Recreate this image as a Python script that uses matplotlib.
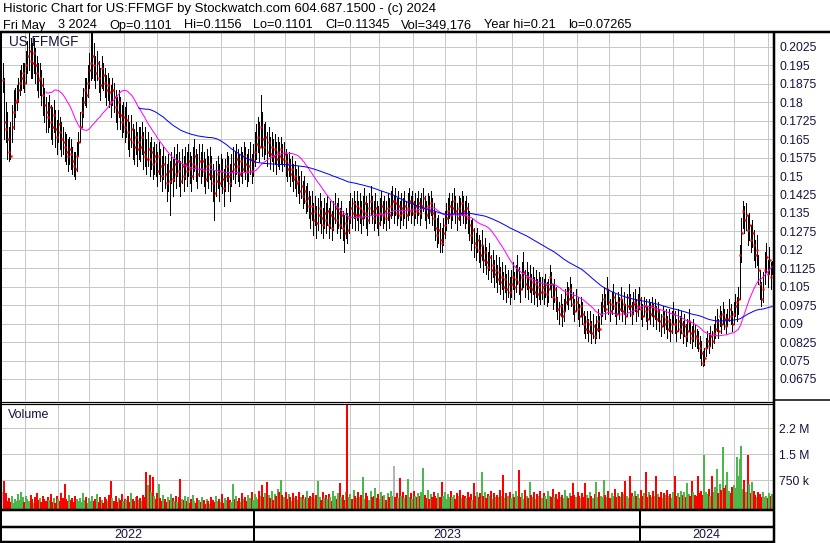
import numpy as np
import pandas as pd
import matplotlib
matplotlib.use("Agg")
import matplotlib.pyplot as plt

plt.rcParams['font.family'] = ['Liberation Sans', 'DejaVu Sans']

TITLE1 = "Historic Chart for US:FFMGF by Stockwatch.com 604.687.1500 - (c) 2024"
TITLE2_FIELDS = ["Fri May", "3 2024", "Op=0.1101", "Hi=0.1156", "Lo=0.1101",
                 "Cl=0.11345", "Vol=349,176", "Year hi=0.21", "lo=0.07265"]
TICKER = "US:FFMGF"
END_DATE = "2024-05-03"
HOLIDAYS = ["2022-05-30", "2022-06-20", "2022-07-04", "2022-09-05", "2022-11-24",
            "2022-12-26", "2023-01-02", "2023-01-16", "2023-02-20", "2023-04-07",
            "2023-05-29", "2023-06-19", "2023-07-04", "2023-09-04", "2023-11-23",
            "2023-12-25", "2024-01-01", "2024-01-15", "2024-02-19", "2024-03-29"]

PRICE_TICKS = [0.0675, 0.075, 0.0825, 0.09, 0.0975, 0.105, 0.1125, 0.12, 0.1275,
               0.135, 0.1425, 0.15, 0.1575, 0.165, 0.1725, 0.18, 0.1875, 0.195, 0.2025]
VOLUME_TICKS = [750000, 1500000, 2250000]
VOLUME_TICK_LABELS = ["750 k", "1.5 M", "2.2 M"]
MA_SHORT = 29
MA_LONG = 89

# prices in units of 0.0001
HIGH_E4 = [
    1960, 1900, 1800, 1760, 1700, 1720, 1790, 1850, 1860,
    1870, 1900, 1930, 1950, 1960, 1960, 2010, 2050, 2080, 2060,
    2040, 2060, 2020, 1990, 1960, 1960, 1930, 1900, 1860, 1820,
    1800, 1830, 1790, 1780, 1810, 1770, 1730, 1770, 1740, 1720,
    1700, 1680, 1670, 1650, 1660, 1650, 1620, 1600, 1600, 1640,
    1680, 1760, 1820, 1860, 1900, 1900, 1950, 2000, 2080, 2100,
    2040, 1990, 2010, 1970, 1940, 1990, 1960, 1940, 1910, 1920,
    1900, 1870, 1900, 1880, 1850, 1820, 1850, 1820, 1790, 1800,
    1780, 1800, 1750, 1720, 1750, 1710, 1690, 1720, 1680, 1700,
    1700, 1720, 1680, 1700, 1650, 1680, 1640, 1660, 1620, 1640,
    1630, 1600, 1640, 1610, 1580, 1620, 1580, 1550, 1590, 1560,
    1600, 1570, 1620, 1590, 1630, 1600, 1560, 1610, 1580, 1620,
    1600, 1630, 1600, 1580, 1620, 1650, 1610, 1590, 1630, 1600,
    1630, 1600, 1570, 1610, 1580, 1620, 1580, 1550, 1520, 1560,
    1580, 1550, 1590, 1570, 1530, 1570, 1600, 1580, 1550, 1590,
    1620, 1600, 1630, 1610, 1590, 1620, 1600, 1640, 1620, 1590,
    1610, 1640, 1590, 1630, 1680, 1710, 1740, 1720, 1830, 1760,
    1710, 1720, 1680, 1700, 1660, 1680, 1650, 1670, 1640, 1660,
    1640, 1660, 1630, 1640, 1610, 1590, 1600, 1570, 1580, 1550,
    1560, 1530, 1540, 1500, 1520, 1480, 1500, 1460, 1470, 1440,
    1420, 1440, 1390, 1420, 1380, 1410, 1430, 1400, 1370, 1410,
    1390, 1420, 1370, 1400, 1360, 1400, 1430, 1390, 1410, 1370,
    1400, 1360, 1340, 1370, 1350, 1400, 1430, 1410, 1440, 1400,
    1440, 1400, 1430, 1400, 1420, 1450, 1420, 1390, 1430, 1460,
    1420, 1400, 1430, 1400, 1380, 1410, 1440, 1400, 1420, 1400,
    1430, 1410, 1440, 1460, 1420, 1450, 1410, 1440, 1400, 1430,
    1410, 1440, 1400, 1430, 1450, 1420, 1440, 1400, 1430, 1410,
    1440, 1410, 1430, 1450, 1420, 1400, 1430, 1420, 1440, 1410,
    1390, 1360, 1330, 1340, 1310, 1290, 1330, 1360, 1390, 1410,
    1430, 1400, 1430, 1450, 1420, 1390, 1420, 1410, 1440, 1420,
    1400, 1420, 1390, 1360, 1320, 1330, 1290, 1270, 1290, 1260,
    1240, 1280, 1220, 1250, 1210, 1190, 1230, 1180, 1200, 1160,
    1180, 1140, 1170, 1130, 1150, 1110, 1140, 1100, 1120, 1090,
    1120, 1150, 1110, 1140, 1180, 1130, 1100, 1150, 1190, 1120,
    1150, 1110, 1140, 1100, 1130, 1090, 1120, 1080, 1110, 1090,
    1090, 1080, 1100, 1070, 1080, 1140, 1110, 1060, 1080, 1050,
    1010, 990, 1020, 980, 1000, 1040, 1070, 1050, 1090, 1060,
    1030, 1000, 1040, 1010, 980, 1010, 990, 950, 930, 950,
    920, 950, 910, 940, 900, 930, 960, 930, 990, 1020,
    1050, 1020, 1090, 1040, 1000, 1030, 1060, 1020, 990, 1030,
    1010, 1050, 1000, 1030, 980, 1020, 1060, 1020, 990, 1030,
    1040, 1000, 1020, 1050, 1010, 980, 1010, 1000, 970, 1000,
    990, 1010, 980, 1000, 970, 990, 960, 940, 970, 950,
    960, 930, 960, 920, 950, 990, 950, 920, 960, 930,
    950, 910, 940, 900, 920, 960, 910, 890, 920, 900,
    880, 870, 850, 830, 790, 800, 840, 870, 860, 890,
    870, 900, 930, 960, 920, 970, 950, 990, 960, 940,
    960, 1000, 980, 950, 990, 1020, 1010, 1050, 1220, 1330,
    1400, 1380, 1390, 1340, 1350, 1300, 1320, 1280, 1240, 1260,
    1180, 1120, 1070, 1110, 1190, 1230, 1160, 1210, 1150, 1156,
]
LOW_E4 = [
    1840, 1650, 1640, 1570, 1560, 1570, 1640, 1690, 1740,
    1770, 1800, 1830, 1850, 1860, 1840, 1880, 1920, 1930, 1900,
    1900, 1920, 1880, 1850, 1820, 1830, 1790, 1750, 1720, 1680,
    1680, 1700, 1650, 1630, 1680, 1620, 1590, 1640, 1610, 1580,
    1590, 1560, 1550, 1520, 1550, 1530, 1510, 1500, 1490, 1520,
    1580, 1640, 1700, 1740, 1790, 1780, 1820, 1860, 1890, 1900,
    1890, 1860, 1890, 1840, 1810, 1860, 1850, 1820, 1790, 1810,
    1780, 1740, 1790, 1760, 1720, 1690, 1740, 1690, 1660, 1680,
    1640, 1660, 1610, 1580, 1620, 1570, 1550, 1590, 1540, 1570,
    1560, 1590, 1530, 1540, 1510, 1540, 1500, 1530, 1490, 1510,
    1500, 1460, 1510, 1480, 1440, 1490, 1450, 1400, 1440, 1340,
    1470, 1420, 1480, 1450, 1500, 1460, 1420, 1470, 1440, 1490,
    1460, 1500, 1470, 1440, 1490, 1520, 1480, 1450, 1500, 1470,
    1500, 1460, 1430, 1480, 1450, 1490, 1440, 1400, 1320, 1420,
    1450, 1400, 1460, 1430, 1380, 1440, 1480, 1440, 1400, 1460,
    1490, 1470, 1510, 1480, 1460, 1500, 1470, 1520, 1490, 1460,
    1480, 1510, 1470, 1500, 1540, 1570, 1600, 1560, 1620, 1580,
    1570, 1590, 1540, 1580, 1530, 1560, 1520, 1550, 1510, 1540,
    1530, 1550, 1520, 1540, 1500, 1480, 1500, 1460, 1480, 1440,
    1450, 1420, 1430, 1390, 1410, 1370, 1390, 1350, 1360, 1330,
    1290, 1320, 1260, 1300, 1250, 1280, 1310, 1270, 1250, 1290,
    1270, 1300, 1250, 1290, 1240, 1280, 1310, 1270, 1290, 1250,
    1290, 1240, 1190, 1250, 1230, 1270, 1310, 1290, 1330, 1280,
    1320, 1280, 1310, 1270, 1300, 1330, 1290, 1260, 1310, 1340,
    1310, 1280, 1310, 1290, 1260, 1300, 1320, 1290, 1310, 1280,
    1320, 1290, 1330, 1340, 1310, 1340, 1300, 1330, 1290, 1320,
    1300, 1330, 1290, 1320, 1340, 1310, 1340, 1300, 1330, 1310,
    1340, 1300, 1330, 1360, 1320, 1290, 1330, 1310, 1340, 1300,
    1280, 1240, 1210, 1230, 1190, 1190, 1220, 1250, 1280, 1310,
    1330, 1290, 1320, 1350, 1310, 1280, 1320, 1300, 1340, 1310,
    1290, 1310, 1270, 1240, 1200, 1230, 1170, 1160, 1190, 1150,
    1130, 1160, 1110, 1140, 1100, 1080, 1120, 1070, 1090, 1050,
    1070, 1030, 1060, 1020, 1040, 1000, 1030, 990, 1010, 980,
    1010, 1040, 1000, 1030, 1060, 1020, 990, 1040, 1050, 1010,
    1040, 1000, 1030, 990, 1020, 980, 1010, 970, 1000, 980,
    1000, 980, 1010, 970, 990, 1040, 1010, 960, 990, 950,
    920, 900, 930, 890, 910, 950, 980, 960, 1000, 970,
    940, 910, 950, 920, 890, 930, 900, 860, 840, 860,
    830, 860, 820, 840, 820, 840, 870, 840, 900, 930,
    950, 920, 980, 940, 910, 940, 960, 930, 900, 940,
    920, 950, 910, 940, 900, 930, 960, 930, 900, 940,
    950, 910, 930, 960, 920, 890, 930, 910, 880, 920,
    900, 930, 890, 920, 880, 910, 870, 850, 890, 860,
    880, 840, 870, 830, 860, 900, 860, 830, 870, 840,
    860, 820, 850, 810, 830, 870, 820, 800, 830, 810,
    800, 790, 760, 730, 727, 730, 770, 800, 780, 810,
    800, 820, 840, 870, 840, 890, 860, 900, 880, 860,
    890, 910, 900, 870, 900, 930, 910, 940, 1000, 1150,
    1290, 1270, 1280, 1220, 1240, 1190, 1210, 1160, 1130, 1140,
    1060, 1000, 970, 990, 1060, 1110, 1050, 1100, 1040, 1101,
]
CLOSE_E4 = [
    1890, 1720, 1690, 1650, 1600, 1580, 1700, 1760, 1800,
    1810, 1850, 1880, 1900, 1920, 1880, 1950, 1990, 2010, 1970,
    1960, 2000, 1950, 1920, 1890, 1900, 1870, 1830, 1790, 1760,
    1740, 1780, 1720, 1700, 1750, 1690, 1660, 1710, 1680, 1650,
    1640, 1620, 1600, 1580, 1610, 1590, 1560, 1540, 1530, 1580,
    1640, 1700, 1760, 1800, 1850, 1830, 1880, 1930, 1960, 1990,
    1950, 1920, 1960, 1900, 1870, 1940, 1910, 1880, 1850, 1870,
    1840, 1800, 1850, 1820, 1780, 1760, 1800, 1750, 1720, 1740,
    1700, 1730, 1680, 1650, 1690, 1640, 1620, 1660, 1610, 1640,
    1620, 1660, 1600, 1580, 1570, 1610, 1570, 1600, 1550, 1580,
    1560, 1520, 1580, 1540, 1500, 1550, 1510, 1470, 1520, 1480,
    1530, 1490, 1550, 1510, 1560, 1520, 1480, 1540, 1500, 1550,
    1520, 1560, 1530, 1500, 1550, 1580, 1540, 1510, 1560, 1530,
    1560, 1520, 1490, 1540, 1510, 1550, 1500, 1470, 1430, 1480,
    1510, 1470, 1520, 1490, 1450, 1500, 1540, 1500, 1470, 1520,
    1550, 1530, 1570, 1540, 1510, 1560, 1530, 1580, 1550, 1520,
    1540, 1570, 1520, 1560, 1600, 1630, 1660, 1620, 1700, 1650,
    1620, 1660, 1600, 1640, 1590, 1620, 1580, 1610, 1570, 1600,
    1580, 1610, 1570, 1590, 1560, 1530, 1550, 1510, 1530, 1490,
    1500, 1470, 1480, 1440, 1460, 1420, 1440, 1400, 1410, 1380,
    1350, 1380, 1320, 1360, 1310, 1340, 1370, 1330, 1300, 1350,
    1320, 1360, 1300, 1340, 1290, 1330, 1370, 1320, 1350, 1300,
    1340, 1290, 1270, 1310, 1280, 1330, 1370, 1350, 1390, 1340,
    1380, 1340, 1370, 1330, 1360, 1390, 1350, 1320, 1370, 1400,
    1360, 1330, 1370, 1340, 1310, 1350, 1380, 1340, 1360, 1330,
    1370, 1340, 1380, 1400, 1400, 1390, 1350, 1380, 1340, 1370,
    1350, 1380, 1340, 1370, 1400, 1360, 1390, 1350, 1380, 1360,
    1390, 1350, 1380, 1410, 1370, 1340, 1380, 1360, 1390, 1350,
    1330, 1290, 1260, 1280, 1240, 1230, 1270, 1300, 1330, 1360,
    1380, 1340, 1370, 1400, 1360, 1330, 1370, 1350, 1390, 1360,
    1340, 1370, 1330, 1300, 1260, 1280, 1230, 1210, 1240, 1200,
    1180, 1220, 1160, 1190, 1150, 1130, 1170, 1120, 1140, 1100,
    1120, 1080, 1110, 1070, 1090, 1050, 1080, 1040, 1060, 1030,
    1060, 1090, 1050, 1080, 1120, 1070, 1040, 1090, 1110, 1060,
    1090, 1050, 1080, 1040, 1070, 1030, 1060, 1020, 1050, 1030,
    1050, 1030, 1060, 1020, 1040, 1090, 1060, 1010, 1040, 1000,
    960, 940, 970, 930, 950, 990, 1020, 1000, 1040, 1010,
    980, 950, 990, 960, 930, 970, 940, 900, 880, 910,
    870, 900, 860, 890, 850, 880, 910, 880, 940, 970,
    1000, 960, 1040, 990, 950, 980, 1010, 970, 940, 990,
    960, 1000, 950, 980, 930, 970, 1010, 970, 940, 980,
    990, 950, 970, 1000, 960, 930, 970, 950, 920, 960,
    940, 970, 930, 960, 920, 950, 910, 890, 930, 900,
    920, 880, 910, 870, 900, 940, 900, 870, 910, 880,
    900, 860, 890, 850, 870, 910, 860, 840, 870, 850,
    840, 820, 800, 780, 740, 760, 800, 830, 810, 850,
    830, 860, 880, 910, 870, 930, 900, 940, 920, 890,
    920, 960, 930, 900, 940, 970, 990, 1000, 1180, 1270,
    1360, 1320, 1340, 1280, 1300, 1240, 1270, 1220, 1180, 1200,
    1120, 1060, 1000, 1040, 1120, 1170, 1100, 1160, 1090, 1134.5,
]
# volume in thousands of shares
VOLUME_K = [
    420, 730, 380, 150, 250, 120, 300, 90, 200, 160,
    350, 180, 420, 260, 110, 300, 200, 140, 330, 220,
    90, 260, 380, 170, 240, 130, 310, 200, 150, 280,
    180, 360, 120, 240, 90, 300, 220, 160, 390, 250,
    650, 210, 140, 330, 180, 250, 110, 290, 200, 150,
    240, 120, 370, 190, 280, 100, 230, 160, 310, 140,
    200, 350, 130, 260, 180, 90, 280, 220, 150, 330,
    730, 240, 160, 300, 110, 250, 190, 350, 140, 220,
    170, 290, 120, 380, 200, 140, 260, 310, 180, 230,
    150, 340, 260, 990, 600, 900, 420, 850, 300, 200,
    380, 650, 250, 160, 320, 210, 130, 280, 190, 360,
    230, 150, 300, 120, 260, 800, 220, 170, 310, 140,
    260, 100, 200, 330, 150, 90, 240, 180, 110, 280,
    170, 60, 220, 140, 80, 260, 190, 120, 300, 150,
    210, 130, 350, 100, 240, 170, 280, 190, 130, 650,
    220, 310, 160, 250, 120, 380, 200, 270, 150, 330,
    240, 420, 180, 350, 280, 200, 450, 300, 620, 260,
    380, 700, 320, 250, 430, 180, 360, 290, 510, 400,
    760, 330, 260, 420, 200, 350, 280, 150, 390, 240,
    300, 180, 410, 260, 340, 200, 280, 450, 230, 310,
    260, 380, 200, 320, 720, 280, 190, 410, 250, 340,
    200, 360, 270, 150, 430, 310, 220, 380, 680, 260,
    330, 190, 410, 2920, 280, 350, 210, 460, 300, 250,
    400, 270, 340, 840, 220, 380, 300, 190, 450, 260,
    310, 520, 240, 360, 200, 420, 290, 330, 180, 390,
    260, 450, 310, 1160, 280, 370, 230, 830, 300, 410,
    250, 340, 800, 280, 390, 200, 450, 310, 260, 380,
    290, 420, 1100, 330, 250, 470, 200, 360, 280, 400,
    310, 240, 380, 270, 690, 300, 420, 210, 350, 280,
    440, 260, 330, 200, 380, 290, 470, 250, 340, 310,
    230, 400, 280, 350, 190, 660, 300, 420, 260, 380,
    1000, 290, 410, 240, 360, 300, 450, 220, 390, 280,
    340, 260, 480, 310, 900, 230, 370, 290, 420, 250,
    360, 280, 440, 310, 1050, 260, 390, 220, 470, 300,
    250, 700, 330, 280, 410, 200, 360, 310, 450, 240,
    380, 290, 220, 430, 310, 260, 490, 280, 350, 200,
    410, 270, 340, 230, 460, 300, 250, 380, 290, 670,
    320, 260, 420, 300, 230, 380, 280, 680, 340, 250,
    400, 300, 230, 350, 690, 270, 420, 310, 260, 750,
    330, 280, 450, 240, 370, 300, 510, 260, 390, 310,
    280, 420, 350, 730, 300, 250, 860, 380, 290, 440,
    310, 360, 250, 480, 300, 390, 1000, 270, 420, 330,
    260, 450, 300, 860, 350, 280, 410, 240, 380, 320,
    470, 290, 360, 250, 420, 860, 310, 380, 270, 450,
    330, 400, 280, 670, 360, 300, 720, 410, 340, 290,
    860, 380, 450, 320, 1480, 420, 360, 500, 300, 860,
    420, 560, 1080, 380, 650, 470, 1700, 520, 600, 1000,
    450, 380, 560, 620, 530, 1420, 870, 1370, 1750, 500,
    750, 420, 1470, 650, 380, 710, 450, 320, 280, 420,
    350, 280, 410, 260, 310, 230, 380, 300, 349.176,
]

# ---------------------------------------------------------------------------
high = np.array(HIGH_E4) / 1e4
low = np.array(LOW_E4) / 1e4
close = np.array(CLOSE_E4) / 1e4
volume = np.array(VOLUME_K) * 1e3
N = len(close)
xs = np.arange(N)
dates = pd.bdate_range(end=END_DATE, periods=N, freq="C", holidays=HOLIDAYS)
ma_s = pd.Series(close).rolling(MA_SHORT).mean()
ma_l = pd.Series(close).rolling(MA_LONG).mean()

months = dates.to_period("M")
month_starts = np.array([i for i in range(1, N) if months[i] != months[i - 1]])
years = dates.year
year_starts = [i for i in range(1, N) if years[i] != years[i - 1]]

W, H = 830, 543
fig = plt.figure(figsize=(W / 100, H / 100), dpi=100)
fig.patch.set_facecolor("white")


def px_axes(x0, y0, x1, y1):
    return fig.add_axes([x0 / W, 1 - y1 / H, (x1 - x0) / W, (y1 - y0) / H])


GRID = "#c8c8c8"
LABEL = "#141440"
PX = 0.72  # points per pixel

# price panel
ax = px_axes(2, 33, 773, 401)
ax.set_xlim(-0.5, N - 0.5)
ax.set_ylim(0.05855, 0.20819)
for s in ax.spines.values():
    s.set_visible(False)
ax.set_xticks(month_starts - 0.5)
ax.set_yticks(PRICE_TICKS)
ax.set_yticklabels([f"{v:.4f}".rstrip("0") for v in PRICE_TICKS])
ax.yaxis.tick_right()
ax.tick_params(axis="both", length=0)
ax.tick_params(axis="x", labelbottom=False)
ax.tick_params(axis="y", pad=6 * PX, labelsize=8.7, labelcolor=LABEL)
ax.grid(True, color=GRID, linewidth=1 * PX)
ax.set_axisbelow(True)

ax.vlines(xs, low, high, color="black", linewidth=1.0 * PX, zorder=3,
          antialiased=False)
ax.plot(xs + 0.35, close, linestyle="none", marker="s", markersize=1.7 * PX,
        markerfacecolor="#ff0000", markeredgecolor="#ff0000",
        markeredgewidth=0.3, zorder=3.5)
ax.plot(xs, ma_s, color="#ff00ff", linewidth=1 * PX, zorder=4)
ax.plot(xs, ma_l, color="#0000ff", linewidth=1 * PX, zorder=4)

# volume panel
axv = px_axes(2, 404, 773, 509)
axv.set_xlim(-0.5, N - 0.5)
vmin = -78000
axv.set_ylim(vmin, 2951000)
for s in axv.spines.values():
    s.set_visible(False)
axv.set_xticks(month_starts - 0.5)
axv.set_yticks(VOLUME_TICKS)
axv.set_yticklabels(VOLUME_TICK_LABELS)
axv.yaxis.tick_right()
axv.tick_params(axis="both", length=0)
axv.tick_params(axis="x", labelbottom=False)
axv.tick_params(axis="y", pad=6 * PX, labelsize=8.7, labelcolor=LABEL)
axv.grid(True, color=GRID, linewidth=1 * PX)
axv.set_axisbelow(True)
prev = np.concatenate([[close[0]], close[:-1]])
vcol = np.where(close > prev, "#4cb84c", np.where(close < prev, "#ff0000", "#b4b4b4"))
axv.vlines(xs, vmin, volume, colors=vcol, linewidth=1.5 * PX, zorder=3,
           antialiased=False)

# year band
axb = px_axes(2, 510, 773, 542)
axb.set_xlim(-0.5, N - 0.5)
axb.set_ylim(0, 1)
axb.axis("off")
bounds = [-0.5] + [i - 0.5 for i in year_starts] + [N - 0.5]
for b in bounds[1:-1]:
    axb.vlines(b, 0, 1, color="black", linewidth=2 * PX)
ylist = [years[0]] + [years[i] for i in year_starts]
for k, yv in enumerate(ylist):
    axb.text((bounds[k] + bounds[k + 1]) / 2, 0.22, str(yv), ha="center",
             va="center", fontsize=9, color=LABEL)

# overlay: frame and texts in pixel coords
ao = fig.add_axes([0, 0, 1, 1], zorder=10)
ao.set_xlim(0, W)
ao.set_ylim(H, 0)
ao.axis("off")
ao.patch.set_alpha(0)


def seg(x0, y0, x1, y1, lw):
    ao.plot([x0, x1], [y0, y1], color="black", linewidth=lw * PX,
            solid_capstyle="butt")


seg(0, 32, W, 32, 2.5)
seg(1, 32, 1, H, 2)
seg(774, 32, 774, H, 2.5)
seg(0, 401.5, 774, 401.5, 1.2)
seg(0, 403.8, 774, 403.8, 1.2)
seg(774, 399.5, W, 399.5, 1.5)
seg(0, 510, 774, 510, 2.5)
seg(0, 527, 774, 527, 2.5)
seg(0, 542, 774, 542, 2.5)

ao.text(3, 12, TITLE1, ha="left", va="baseline", fontsize=9.5, color="black")
# second header line: fields laid out left to right with fixed gaps
renderer = fig.canvas.get_renderer()
xpos = 3.0
for k, field in enumerate(TITLE2_FIELDS):
    t = ao.text(xpos, 28.5, field, ha="left", va="baseline", fontsize=9.2,
                color="black")
    bb = t.get_window_extent(renderer)
    xpos = bb.x1 + (13 if k == 0 else 12)

ao.text(9, 46, TICKER, ha="left", va="baseline", fontsize=9.8, color=LABEL)
ao.text(8, 418, "Volume", ha="left", va="baseline", fontsize=9, color=LABEL)

fig.savefig("out.png", dpi=100)
